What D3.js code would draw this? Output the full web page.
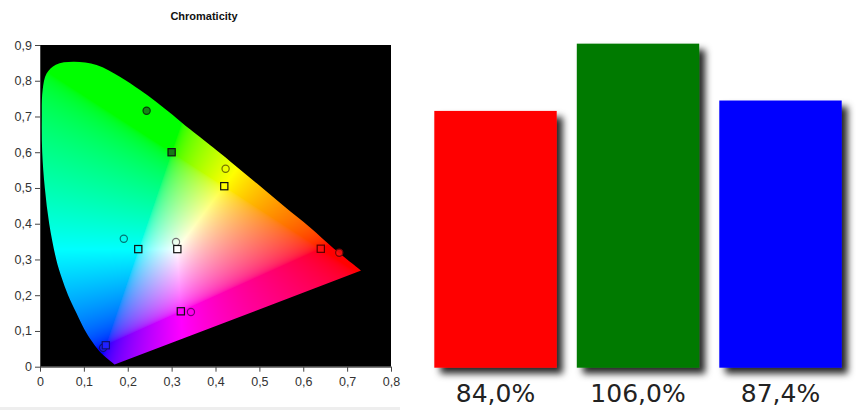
<!DOCTYPE html>
<html>
<head>
<meta charset="utf-8">
<script src="https://cdn.jsdelivr.net/npm/d3@7"></script>
<style>
  body { margin: 0; background: #fff; }
  svg { display: block; }
</style>
</head>
<body>
<script>
// spectral locus (x, y), apex at the bottom, going up the left side
let locusPoints = [
  [0.170, 0.006], [0.141, 0.036], [0.119, 0.070], [0.101, 0.105], [0.083, 0.150],
  [0.064, 0.200], [0.049, 0.250], [0.037, 0.300], [0.021, 0.400], [0.011, 0.500],
  [0.005, 0.600], [0.004, 0.690], [0.006, 0.774], [0.015, 0.820], [0.036, 0.845],
  [0.076, 0.853], [0.129, 0.844], [0.182, 0.811], [0.228, 0.774], [0.266, 0.740],
  [0.302, 0.705], [0.342, 0.664], [0.373, 0.634], [0.433, 0.575], [0.494, 0.513],
  [0.555, 0.450], [0.615, 0.390], [0.670, 0.330], [0.732, 0.269]
]

let primaries = ["R", "G", "B", "C", "M", "Y", "W"]
let markerColors = ["#ff1010", "#167a16", "#2020ff", "#00ffff", "#ff00ff", "#ffff00", "#ffffff"]
let targetX = [0.640, 0.300, 0.150, 0.224, 0.321, 0.420, 0.313]
let targetY = [0.330, 0.600, 0.060, 0.329, 0.155, 0.505, 0.329]
let measuredX = [0.682, 0.243, 0.144, 0.191, 0.344, 0.423, 0.310]
let measuredY = [0.319, 0.716, 0.053, 0.358, 0.153, 0.554, 0.349]

let xTicks = [0, 0.1, 0.2, 0.3, 0.4, 0.5, 0.6, 0.7, 0.8]
let yTicks = [0, 0.1, 0.2, 0.3, 0.4, 0.5, 0.6, 0.7, 0.8, 0.9]

let barNames = ["Red", "Green", "Blue"]
let barValues = [84.0, 106.0, 87.4]
let barLabels = ["84,0%", "106,0%", "87,4%"]
let barColors = ["#ff0000", "#067a06", "#0000ff"]

let w = 856
let h = 410

let svg = d3.select("body").append("svg")
  .attr("width", w)
  .attr("height", h)

let defs = svg.append("defs")

// ---------- chromaticity chart ----------
let plotL = 40, plotR = 391, plotT = 45, plotB = 366.7

let xC = d3.scaleLinear().domain([0, 0.8]).range([plotL, plotR])
let yC = d3.scaleLinear().domain([0, 0.9]).range([plotB, plotT])

let commaFmt = (d)=> d === 0 ? "0" : d3.format(".1f")(d).replace(".", ",")

svg.append("text")
  .text("Chromaticity")
  .attr("x", 204)
  .attr("y", 20)
  .attr("text-anchor", "middle")
  .style("font-family", "Liberation Sans, Arial, sans-serif")
  .style("font-weight", "bold")
  .style("font-size", "11px")
  .attr("fill", "#111")

svg.append("rect")
  .attr("x", plotL)
  .attr("y", plotT)
  .attr("width", plotR - plotL)
  .attr("height", plotB - plotT)
  .attr("fill", "#000")

// colour field: xy -> XYZ -> sRGB, normalised to the brightest channel
let gamma = (c)=> c <= 0.0031308 ? 12.92 * c : 1.055 * Math.pow(c, 1 / 2.4) - 0.055

let drawField = ()=>{
  let cw = Math.round(plotR - plotL)
  let ch = Math.round(plotB - plotT)
  let canvas = document.createElement("canvas")
  canvas.width = cw
  canvas.height = ch
  let ctx = canvas.getContext("2d")
  let img = ctx.createImageData(cw, ch)
  for (let j = 0; j < ch; j++) {
    for (let i = 0; i < cw; i++) {
      let x = xC.invert(plotL + i + 0.5)
      let y = yC.invert(plotT + j + 0.5)
      let k = (j * cw + i) * 4
      if (y <= 0.001) { img.data[k + 3] = 0; continue }
      let X = x / y, Y = 1, Z = (1 - x - y) / y
      let r = 3.2406 * X - 1.5372 * Y - 0.4986 * Z
      let g = -0.9689 * X + 1.8758 * Y + 0.0415 * Z
      let b = 0.0557 * X - 0.2040 * Y + 1.0570 * Z
      r = Math.max(r, 0); g = Math.max(g, 0); b = Math.max(b, 0)
      let m = Math.max(r, g, b) || 1
      img.data[k] = Math.round(255 * gamma(r / m))
      img.data[k + 1] = Math.round(255 * gamma(g / m))
      img.data[k + 2] = Math.round(255 * gamma(b / m))
      img.data[k + 3] = 255
    }
  }
  ctx.putImageData(img, 0, 0)

  let locusLine = d3.line()
    .x((d)=> xC(d[0]))
    .y((d)=> yC(d[1]))
    .curve(d3.curveCatmullRom)

  defs.append("clipPath")
    .attr("id", "locus")
    .append("path")
    .attr("d", locusLine(locusPoints) + "Z")

  svg.append("image")
    .attr("href", canvas.toDataURL())
    .attr("x", plotL)
    .attr("y", plotT)
    .attr("width", cw)
    .attr("height", ch)
    .attr("preserveAspectRatio", "none")
    .attr("clip-path", "url(#locus)")
}
drawField()

let axisFont = (g)=>{
  g.selectAll("text")
    .style("font-family", "Liberation Sans, Arial, sans-serif")
    .style("font-size", "12.5px")
    .attr("fill", "#333")
  g.selectAll("line").attr("stroke", "#444")
  g.select(".domain").attr("stroke", "#444")
}

svg.append("g")
  .attr("transform", "translate(0," + plotB + ")")
  .call(d3.axisBottom(xC).tickValues(xTicks).tickFormat(commaFmt).tickSize(5).tickSizeOuter(0))
  .call(axisFont)
  .call((g)=> g.selectAll("text").attr("dy", "0.9em"))

svg.append("g")
  .attr("transform", "translate(" + plotL + ",0)")
  .call(d3.axisLeft(yC).tickValues(yTicks).tickFormat(commaFmt).tickSize(5).tickSizeOuter(0))
  .call(axisFont)

// markers
let markerData = primaries.map((p, i)=>({
  name: p,
  color: markerColors[i],
  tx: targetX[i], ty: targetY[i],
  mx: measuredX[i], my: measuredY[i]
}))

svg.append("g").selectAll("circle")
  .data(markerData)
  .enter()
  .append("circle")
  .attr("cx", (d)=> xC(d.mx))
  .attr("cy", (d)=> yC(d.my))
  .attr("r", 3.6)
  .attr("fill", (d)=> d.color)
  .attr("fill-opacity", (d)=> d.name === "G" || d.name === "B" || d.name === "R" ? 0.9 : 0.15)
  .attr("stroke", (d)=> d3.color(d.color).darker(2.2))
  .attr("stroke-width", 1.2)

svg.append("g").selectAll("rect")
  .data(markerData)
  .enter()
  .append("rect")
  .attr("x", (d)=> xC(d.tx) - 3.6)
  .attr("y", (d)=> yC(d.ty) - 3.6)
  .attr("width", 7.2)
  .attr("height", 7.2)
  .attr("fill", (d)=> d.color)
  .attr("stroke", (d)=> d.name === "R" ? "#5a0000" : d.name === "B" ? "#101070" : "#111")
  .attr("stroke-width", 1.2)

svg.append("rect")
  .attr("x", 0)
  .attr("y", 407)
  .attr("width", 400)
  .attr("height", 3)
  .attr("fill", "#eeeeee")

// ---------- bars ----------
let shadow = defs.append("filter")
  .attr("id", "shadow")
  .attr("x", "-20%").attr("y", "-20%")
  .attr("width", "150%").attr("height", "150%")
shadow.append("feDropShadow")
  .attr("dx", 6)
  .attr("dy", 6)
  .attr("stdDeviation", 3.5)
  .attr("flood-color", "#000")
  .attr("flood-opacity", 0.85)

let xBar = d3.scaleBand().domain(barNames).range([434.3, 841.7]).paddingInner(0.141).paddingOuter(0)
let yBar = d3.scaleLinear().domain([0, 100]).range([367.7, 62])

svg.append("g").selectAll("rect")
  .data(barNames)
  .enter()
  .append("rect")
  .attr("x", (d)=> xBar(d))
  .attr("y", (d, i)=> yBar(barValues[i]))
  .attr("width", xBar.bandwidth())
  .attr("height", (d, i)=> yBar(0) - yBar(barValues[i]))
  .attr("fill", (d, i)=> barColors[i])
  .attr("filter", "url(#shadow)")

svg.append("g").selectAll("text")
  .data(barNames)
  .enter()
  .append("text")
  .text((d, i)=> barLabels[i])
  .attr("x", (d)=> xBar(d) + xBar.bandwidth() / 2)
  .attr("y", 401.5)
  .attr("text-anchor", "middle")
  .style("font-family", "DejaVu Sans, Verdana, sans-serif")
  .style("font-size", "25px")
  .attr("fill", "#222")
</script>
</body>
</html>
